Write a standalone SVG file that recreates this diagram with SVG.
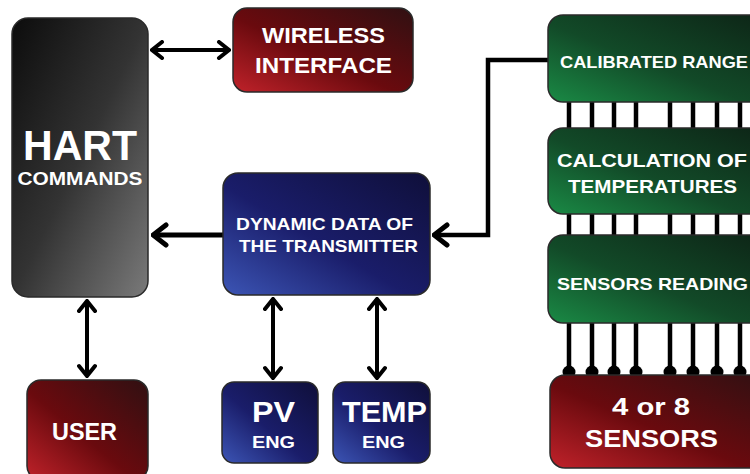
<svg xmlns="http://www.w3.org/2000/svg" width="750" height="474" viewBox="0 0 750 474">
<style>
.box{stroke:#2a2a2a;stroke-width:1.5}
.t{font-family:"Liberation Sans",Arial,sans-serif;font-weight:bold;fill:#fff;text-anchor:middle}
.c{stroke:#000;stroke-width:4;fill:none}
.bar{stroke:#000;stroke-width:4.5}
</style>
<defs>
<linearGradient id="gGray" x1="0" y1="0" x2="1" y2="1"><stop offset="0" stop-color="#0c0c0c"/><stop offset="0.5" stop-color="#333"/><stop offset="1" stop-color="#7a7a7a"/></linearGradient>
<linearGradient id="gRed" x1="0" y1="1" x2="1" y2="0"><stop offset="0" stop-color="#c0222a"/><stop offset="0.45" stop-color="#6a0a0e"/><stop offset="1" stop-color="#301012"/></linearGradient>
<linearGradient id="gBlue" x1="0" y1="1" x2="1" y2="0"><stop offset="0" stop-color="#3c55b5"/><stop offset="0.45" stop-color="#1a1d6a"/><stop offset="1" stop-color="#0f0f3a"/></linearGradient>
<linearGradient id="gGreen" x1="0" y1="1" x2="1" y2="0"><stop offset="0" stop-color="#1a8a45"/><stop offset="0.45" stop-color="#124a28"/><stop offset="1" stop-color="#0d2416"/></linearGradient>
<marker id="arr" viewBox="-13 -10 15 20" refX="0" refY="0" markerWidth="15" markerHeight="20" markerUnits="userSpaceOnUse" orient="auto-start-reverse">
<path d="M-10,-8 L0,0 L-10,8" fill="none" stroke="#000" stroke-width="4" stroke-linecap="round"/>
</marker>
<marker id="arrB" viewBox="-16 -13 18 26" refX="0" refY="0" markerWidth="18" markerHeight="26" markerUnits="userSpaceOnUse" orient="auto-start-reverse">
<path d="M-13,-10 L0,0 L-13,10" fill="none" stroke="#000" stroke-width="5" stroke-linecap="round"/>
</marker>
</defs>
<rect width="750" height="474" fill="#fff"/>

<g id="connectors">
<line class="c" x1="152" y1="50" x2="229" y2="50" marker-start="url(#arr)" marker-end="url(#arr)"/>
<line class="c" x1="87" y1="301" x2="87" y2="376" marker-start="url(#arr)" marker-end="url(#arr)"/>
<line class="c" x1="273" y1="299" x2="273" y2="378" marker-start="url(#arr)" marker-end="url(#arr)"/>
<line class="c" x1="377" y1="299" x2="377" y2="378" marker-start="url(#arr)" marker-end="url(#arr)"/>
<line class="c" style="stroke-width:5" x1="223" y1="235" x2="153" y2="235" marker-end="url(#arrB)"/>
<polyline class="c" style="stroke-width:4.5" points="548,60 488,60 488,235 434,235" marker-end="url(#arrB)"/>
<g id="ladders">
<path class="bar" d="M569,100V130M592,100V130M614,100V130M636,100V130M670,100V130M693,100V130M717,100V130M740,100V130"/>
<path class="bar" d="M569,212V237M592,212V237M614,212V237M636,212V237M670,212V237M693,212V237M717,212V237M740,212V237"/>
<path class="bar" d="M569,322V372M592,322V372M614,322V372M636,322V372M670,322V372M693,322V372M717,322V372M740,322V372"/>
<g fill="#000">
<circle cx="569" cy="372" r="6.5"/><circle cx="592" cy="372" r="6.5"/><circle cx="614" cy="372" r="6.5"/><circle cx="636" cy="372" r="6.5"/><circle cx="670" cy="372" r="6.5"/><circle cx="693" cy="372" r="6.5"/><circle cx="717" cy="372" r="6.5"/><circle cx="740" cy="372" r="6.5"/>
</g>
</g>
</g>

<g id="hart">
<rect class="box" x="12" y="18" width="136" height="279" rx="16" fill="url(#gGray)"/>
<text class="t" x="80" y="160" font-size="42" textLength="114" lengthAdjust="spacingAndGlyphs">HART</text>
<text class="t" x="80" y="185" font-size="18" textLength="125" lengthAdjust="spacingAndGlyphs">COMMANDS</text>
</g>
<g id="wireless">
<rect class="box" x="233" y="8" width="180" height="84" rx="14" fill="url(#gRed)"/>
<text class="t" x="323.5" y="43" font-size="22" textLength="123" lengthAdjust="spacingAndGlyphs">WIRELESS</text>
<text class="t" x="323.5" y="73" font-size="22" textLength="137" lengthAdjust="spacingAndGlyphs">INTERFACE</text>
</g>
<g id="dynamic">
<rect class="box" x="223" y="173" width="207" height="122" rx="15" fill="url(#gBlue)"/>
<text class="t" x="324.5" y="230" font-size="17" textLength="177" lengthAdjust="spacingAndGlyphs">DYNAMIC DATA OF</text>
<text class="t" x="328.5" y="252" font-size="17" textLength="179" lengthAdjust="spacingAndGlyphs">THE TRANSMITTER</text>
</g>
<g id="user">
<rect class="box" x="27" y="380" width="121" height="100" rx="14" fill="url(#gRed)"/>
<text class="t" x="84.5" y="440" font-size="23" textLength="65" lengthAdjust="spacingAndGlyphs">USER</text>
</g>
<g id="pv">
<rect class="box" x="222" y="382" width="96" height="81" rx="12" fill="url(#gBlue)"/>
<text class="t" x="273.5" y="422" font-size="30" textLength="43" lengthAdjust="spacingAndGlyphs">PV</text>
<text class="t" x="273.5" y="448" font-size="16" textLength="43" lengthAdjust="spacingAndGlyphs">ENG</text>
</g>
<g id="temp">
<rect class="box" x="333" y="382" width="97" height="81" rx="12" fill="url(#gBlue)"/>
<text class="t" x="384.5" y="422" font-size="30" textLength="85" lengthAdjust="spacingAndGlyphs">TEMP</text>
<text class="t" x="383.5" y="448" font-size="16" textLength="43" lengthAdjust="spacingAndGlyphs">ENG</text>
</g>
<g id="calibrated">
<rect class="box" x="548" y="15" width="220" height="87" rx="15" fill="url(#gGreen)"/>
<text class="t" x="654" y="68" font-size="17" textLength="188" lengthAdjust="spacingAndGlyphs">CALIBRATED RANGE</text>
</g>
<g id="calculation">
<rect class="box" x="548" y="128" width="220" height="86" rx="15" fill="url(#gGreen)"/>
<text class="t" x="652" y="167" font-size="18" textLength="190" lengthAdjust="spacingAndGlyphs">CALCULATION OF</text>
<text class="t" x="652.5" y="193" font-size="18" textLength="169" lengthAdjust="spacingAndGlyphs">TEMPERATURES</text>
</g>
<g id="reading">
<rect class="box" x="548" y="235" width="220" height="88" rx="15" fill="url(#gGreen)"/>
<text class="t" x="652.5" y="290" font-size="17" textLength="191" lengthAdjust="spacingAndGlyphs">SENSORS READING</text>
</g>
<g id="sensors">
<rect class="box" x="550" y="375" width="220" height="93" rx="15" fill="url(#gRed)"/>
<text class="t" x="651" y="415" font-size="24" textLength="78" lengthAdjust="spacingAndGlyphs">4 or 8</text>
<text class="t" x="651.5" y="447" font-size="24" textLength="133" lengthAdjust="spacingAndGlyphs">SENSORS</text>
</g>
</svg>
